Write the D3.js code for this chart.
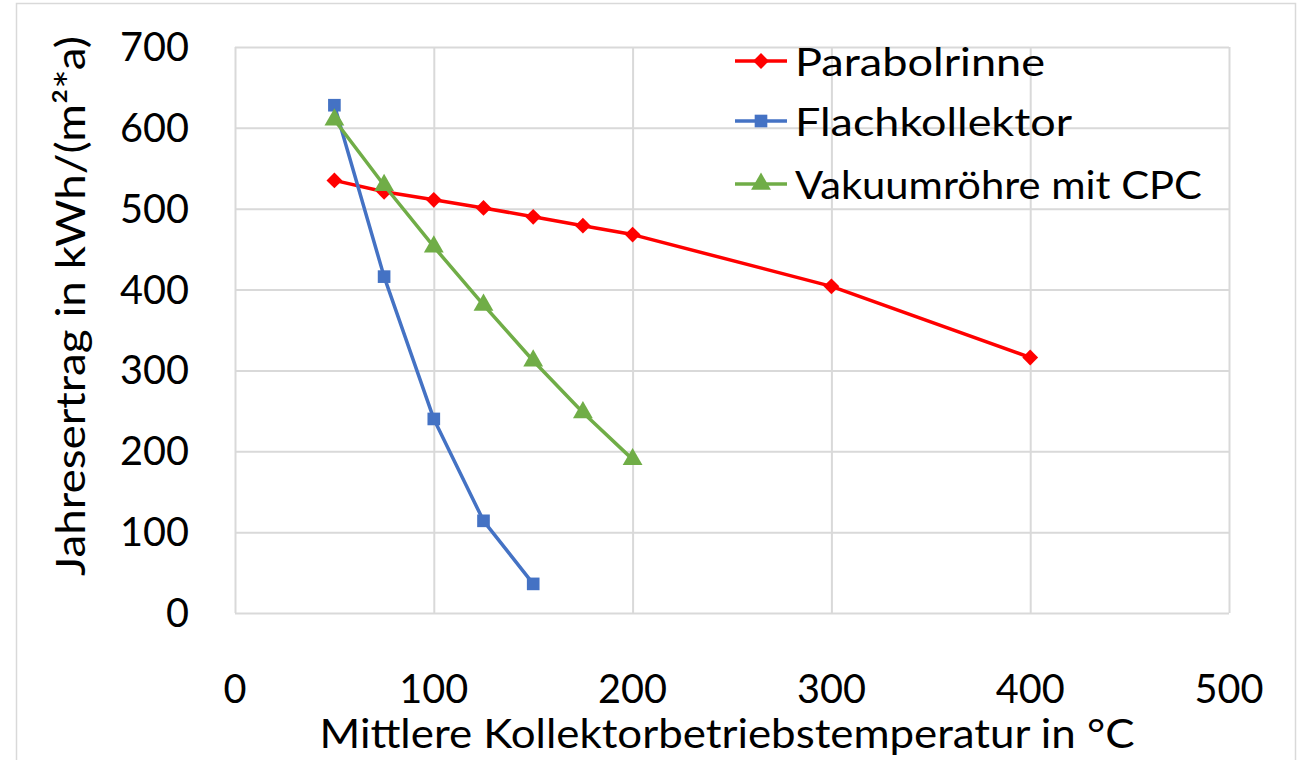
<!DOCTYPE html>
<html>
<head>
<meta charset="utf-8">
<script src="https://cdn.jsdelivr.net/npm/d3@7"></script>
<style>
  html, body { margin: 0; padding: 0; background: #fff; }
  svg { display: block; }
  text { font-family: Lato, "Open Sans", sans-serif; fill: #000; }
</style>
</head>
<body>
<svg id="chart" width="1302" height="760"></svg>
<script>
// ---- data ----
const xTicks = [0, 100, 200, 300, 400, 500];
const yTicks = [0, 100, 200, 300, 400, 500, 600, 700];

const parabolX = [50, 75, 100, 125, 150, 175, 200, 300, 400];
const parabolY = [535, 521, 511, 501, 490, 479, 468, 404, 316];

const flachX = [50, 75, 100, 125, 150];
const flachY = [628, 416, 240, 114, 36];

const vakuumX = [50, 75, 100, 125, 150, 175, 200];
const vakuumY = [610, 529, 453, 381, 312, 248, 190];

const seriesNames = ["Parabolrinne", "Flachkollektor", "Vakuumröhre mit CPC"];
const seriesColors = ["#FF0000", "#4472C4", "#70AD47"];
const seriesMarkers = ["diamond", "square", "triangle"];

const xTitle = "Mittlere Kollektorbetriebstemperatur in °C";
const yTitle = "Jahresertrag in kWh/(m²*a)";

// ---- layout ----
const svg = d3.select("#chart");
const plot = { left: 235, right: 1229, top: 47, bottom: 613 };
const x = d3.scaleLinear().domain([0, 500]).range([plot.left, plot.right]);
const y = d3.scaleLinear().domain([0, 700]).range([plot.bottom, plot.top]);
const grid = "#d9d9d9";

// outer chart border
svg.append("rect").attr("x", 16.5).attr("y", 3.5).attr("width", 1279).attr("height", 800)
  .attr("fill", "none").attr("stroke", grid).attr("stroke-width", 1.5);

// gridlines via axes
const gx = svg.append("g").attr("transform", `translate(0,${plot.bottom})`)
  .call(d3.axisBottom(x).tickValues(xTicks).tickSize(-(plot.bottom - plot.top)).tickFormat(""));
const gy = svg.append("g").attr("transform", `translate(${plot.left},0)`)
  .call(d3.axisLeft(y).tickValues(yTicks).tickSize(-(plot.right - plot.left)).tickFormat(""));
[gx, gy].forEach(g => {
  g.select(".domain").remove();
  g.selectAll(".tick line").attr("stroke", grid).attr("stroke-width", 2);
});

// tick labels
svg.append("g").selectAll("text").data(xTicks).join("text")
  .attr("x", d => x(d)).attr("y", 703)
  .attr("text-anchor", "middle").style("font-size", "40px")
  .attr("textLength", d => String(d).length * 23).attr("lengthAdjust", "spacingAndGlyphs")
  .text(d => d);
svg.append("g").selectAll("text").data(yTicks).join("text")
  .attr("x", 189).attr("y", d => y(d) + 14)
  .attr("text-anchor", "end").style("font-size", "40px")
  .attr("textLength", d => String(d).length * 23).attr("lengthAdjust", "spacingAndGlyphs")
  .text(d => d);

// axis titles
svg.append("text").attr("x", 727).attr("y", 748)
  .attr("text-anchor", "middle").style("font-size", "40px")
  .attr("textLength", 815).attr("lengthAdjust", "spacingAndGlyphs")
  .text(xTitle);
svg.append("text")
  .attr("transform", `translate(85,306) rotate(-90)`)
  .attr("text-anchor", "middle").style("font-size", "40px")
  .attr("textLength", 540).attr("lengthAdjust", "spacingAndGlyphs")
  .text(yTitle);

// series
const series = [
  { xs: parabolX, ys: parabolY },
  { xs: flachX, ys: flachY },
  { xs: vakuumX, ys: vakuumY }
];
const symbolFor = m => m === "triangle" ? d3.symbolTriangle : d3.symbolSquare;
const symbolSize = m => m === "diamond" ? 125 : m === "square" ? 160 : 170;
const symbolRot = m => m === "diamond" ? 45 : 0;
const line = d3.line().x(d => x(d[0])).y(d => y(d[1]));

series.forEach((s, i) => {
  const m = seriesMarkers[i];
  const pts = s.xs.map((v, j) => [v, s.ys[j]]);
  svg.append("path").datum(pts).attr("d", line)
    .attr("fill", "none").attr("stroke", seriesColors[i]).attr("stroke-width", 3.5)
    .attr("stroke-linejoin", "round");
  svg.append("g").selectAll("path").data(pts).join("path")
    .attr("transform", d => `translate(${x(d[0])},${y(d[1])}) rotate(${symbolRot(m)})`)
    .attr("d", d3.symbol().type(symbolFor(m)).size(symbolSize(m)))
    .attr("fill", seriesColors[i]);
});

// legend
const legendRows = [61, 121, 184];
const legendWidths = [250, 277, 407];
seriesNames.forEach((name, i) => {
  const m = seriesMarkers[i];
  const g = svg.append("g").attr("transform", `translate(0,${legendRows[i]})`);
  g.append("line").attr("x1", 735).attr("x2", 787).attr("y1", 0).attr("y2", 0)
    .attr("stroke", seriesColors[i]).attr("stroke-width", 3.5);
  g.append("path").attr("transform", `translate(761,0) rotate(${symbolRot(m)})`)
    .attr("d", d3.symbol().type(symbolFor(m)).size(symbolSize(m)))
    .attr("fill", seriesColors[i]);
  g.append("text").attr("x", 795).attr("y", 15)
    .style("font-size", "38px")
    .attr("textLength", legendWidths[i]).attr("lengthAdjust", "spacingAndGlyphs")
    .text(name);
});
</script>
</body>
</html>
